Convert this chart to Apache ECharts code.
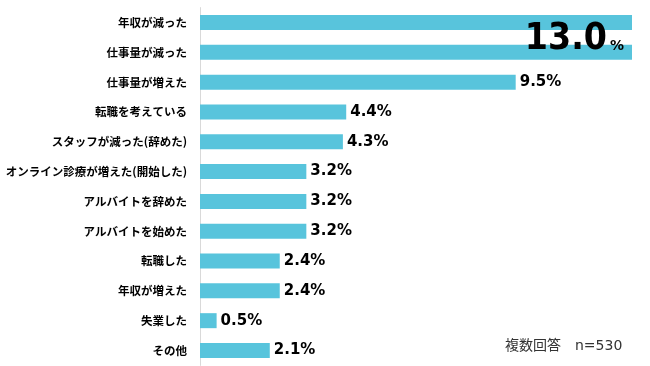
<!DOCTYPE html>
<html>
<head>
<meta charset="utf-8">
<script src="https://cdn.jsdelivr.net/npm/echarts@6/dist/echarts.min.js"></script>
<style>html,body{margin:0;padding:0;background:#fff;}#c{width:650px;height:366px;}</style>
</head>
<body>
<div id="c"></div>
<script>
const categories = ['年収が減った','仕事量が減った','仕事量が増えた','転職を考えている','スタッフが減った(辞めた)','オンライン診療が増えた(開始した)','アルバイトを辞めた','アルバイトを始めた','転職した','年収が増えた','失業した','その他'];
const values = [13.0, 13.0, 9.5, 4.4, 4.3, 3.2, 3.2, 3.2, 2.4, 2.4, 0.5, 2.1];
const note = '複数回答　n=530';

const chart = echarts.init(document.getElementById('c'), null, {renderer:'canvas'});
const data = values.map((v, i) => {
  if (i === 0) return {value: v, label: {show: false}};
  if (i === 1) return {value: v, label: {
    show: true, position: 'insideRight', distance: 8, offset: [0, -13],
    formatter: '{a|' + v.toFixed(1) + '}{b|%}',
    rich: {
      a: {fontFamily: 'DejaVu Sans Condensed', fontWeight: 'bold', fontSize: 37, color: '#000'},
      b: {fontFamily: 'DejaVu Sans', fontWeight: 'bold', fontSize: 14, color: '#000', verticalAlign: 'bottom', padding: [0,0,4,3]}
    }
  }};
  return v;
});
chart.setOption({
  animation: false,
  title: {text: note, left: 500, top: 334, textStyle: {fontFamily: "'DejaVu Sans', 'Noto Sans CJK JP'", fontWeight: 'normal', fontSize: 14, color: '#333'}},
  grid: {left: 200, right: 18, top: 7.6, bottom: 0.6, containLabel: false, outerBoundsMode: 'none'},
  xAxis: {type: 'value', min: 0, max: 13.0, show: false},
  yAxis: {
    type: 'category', data: categories, inverse: true,
    axisLine: {show: true, lineStyle: {color: '#d9d9d9', width: 1}},
    axisTick: {show: false},
    axisLabel: {margin: 13, color: '#000', fontFamily: 'Noto Sans CJK JP', fontWeight: 'bold', fontSize: 11.5}
  },
  series: [{
    type: 'bar', data: data, barWidth: 15,
    itemStyle: {color: '#58c4dc'},
    label: {show: true, position: 'right', distance: 4, formatter: p => p.value.toFixed(1) + '%',
      fontFamily: 'DejaVu Sans', fontWeight: 'bold', fontSize: 15, color: '#000'}
  }]
});
</script>
</body>
</html>
